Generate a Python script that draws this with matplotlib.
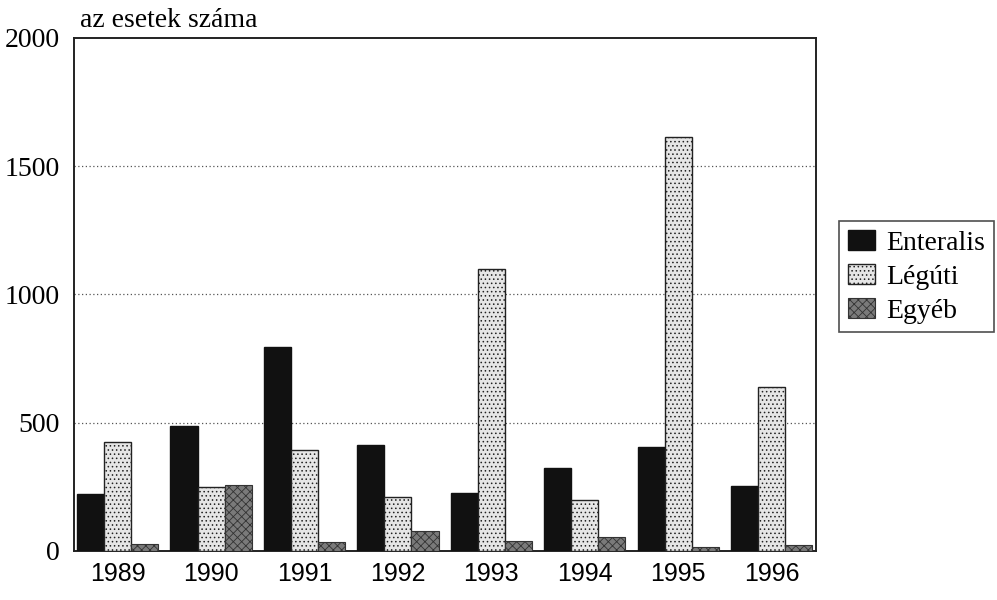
import numpy as np
import matplotlib
matplotlib.use("Agg")
from matplotlib import pyplot as plt

# adatok
years = ["1989", "1990", "1991", "1992", "1993", "1994", "1995", "1996"]
enteralis = [221, 488, 794, 411, 225, 323, 403, 254]
leguti = [426, 250, 392, 211, 1100, 199, 1614, 639]
egyeb = [27, 255, 34, 78, 40, 55, 13, 21]
series_names = ["Enteralis", "Légúti", "Egyéb"]
yticks = [0, 500, 1000, 1500, 2000]

plt.rcParams['hatch.linewidth'] = 0.6
serif = "Liberation Serif"
sans = "Liberation Sans"

fig = plt.figure(figsize=(9.97, 6.0), dpi=100)
ax = fig.add_axes([0.074, 0.082, 0.744, 0.855])

x = np.arange(len(years))
w = 0.29
ax.bar(x - w, enteralis, w, color="#111111", edgecolor="#111111", label=series_names[0], zorder=3)
ax.bar(x, leguti, w, color="#e6e6e6", edgecolor="#222222", hatch="....", linewidth=1.0,
       label=series_names[1], zorder=3)
ax.bar(x + w, egyeb, w, color="#7a7a7a", edgecolor="#333333", hatch="xxxx", linewidth=0.8,
       label=series_names[2], zorder=3)

ax.set_xlim(-0.47, 7.47)
ax.set_ylim(0, 2000)
ax.set_yticks(yticks)
ax.set_yticklabels([str(v) for v in yticks], fontfamily=serif, fontsize=20)
ax.set_xticks(x)
ax.set_xticklabels(years, fontfamily=sans, fontsize=18)
ax.tick_params(length=0, pad=8)
ax.tick_params(axis="y", pad=10)

for v in yticks[1:-1]:
    ax.axhline(v, color="#555555", linestyle=(0, (1, 2)), linewidth=0.9, zorder=1)

for s in ax.spines.values():
    s.set_linewidth(1.4)
    s.set_color("#222222")

fig.text(0.08, 0.945, "az esetek száma", fontfamily=serif, fontsize=20, ha="left", va="bottom")

leg = ax.legend(loc="center left", bbox_to_anchor=(1.032, 0.534), frameon=True, fancybox=False,
                prop={"family": serif, "size": 20}, handlelength=1.0, handleheight=0.75,
                handletextpad=0.4, borderpad=0.3, labelspacing=0.3, borderaxespad=0)
leg.get_frame().set_edgecolor("#222222")
leg.get_frame().set_linewidth(1.2)

fig.savefig("out.png", dpi=100)
